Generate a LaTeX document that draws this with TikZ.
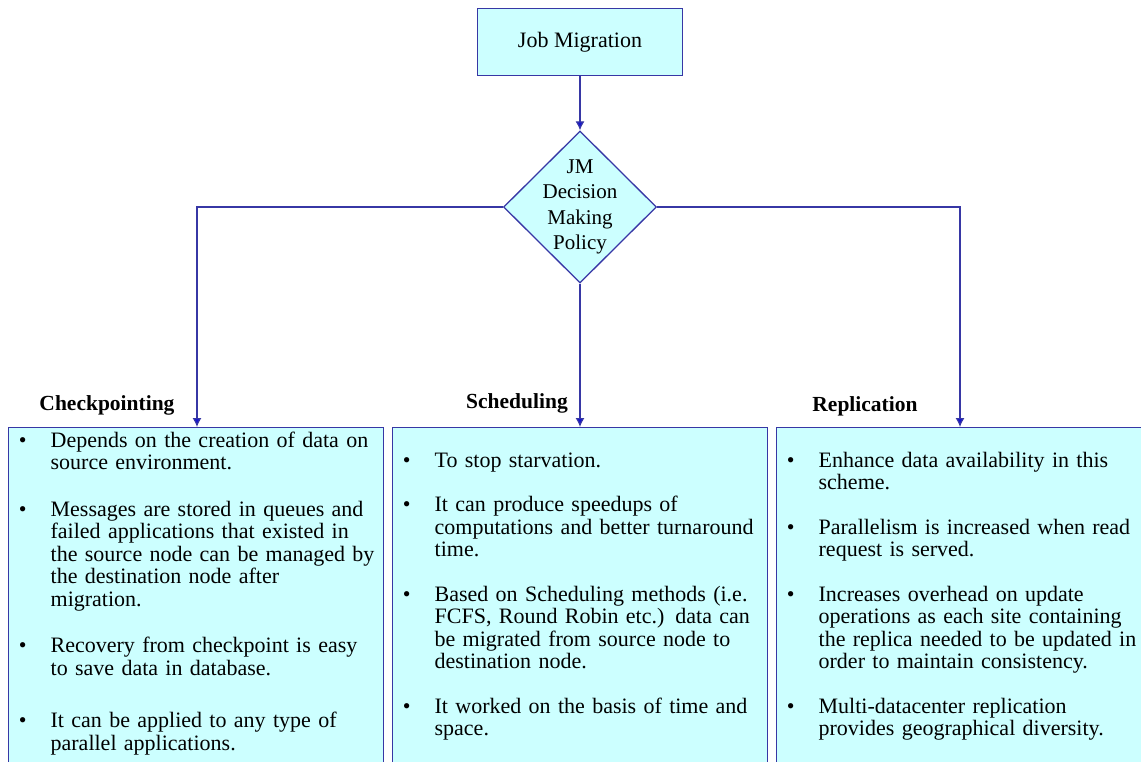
\documentclass[tikz,border=0pt]{standalone}
\usepackage{fontspec}
\setmainfont{Liberation Serif}
\usepackage{enumitem}
\usetikzlibrary{arrows.meta,shapes.geometric,positioning}
\definecolor{boxfill}{RGB}{204,255,255}
\definecolor{boxline}{RGB}{55,55,165}
\definecolor{tipblue}{RGB}{20,20,210}
\setlist[itemize]{label=\textbullet, leftmargin=38pt, labelwidth=14pt,
  labelsep=24pt, itemsep=22pt, parsep=0pt, topsep=0pt, partopsep=0pt}
\tikzset{%
  >={Latex[width=9pt,length=9pt,fill=tipblue]},
  % Specifications for style of nodes:
            base/.style = {rectangle, draw=boxline, fill=boxfill,
                           line width=1.3pt, font=\fontsize{22}{22.5}\selectfont},
        topbox/.style = {base, minimum width=205pt, minimum height=67pt},
      decision/.style = {base, diamond, aspect=1, inner sep=-12pt,
                         minimum width=153pt, minimum height=152pt,
                         align=center, font=\fontsize{21}{25.5}\selectfont},
       listbox/.style = {base, anchor=north west, inner xsep=4pt, inner ysep=0pt,
                         text width=367pt, align=left},
       heading/.style = {font=\fontsize{21.5}{22}\selectfont\bfseries, anchor=base},
          flow/.style = {draw=boxline, line width=1.2pt, ->},
}

\begin{document}
\begin{tikzpicture}[x=1pt, y=-1pt]
  \clip (0,0) rectangle (1141,761);
  % Specification of nodes (position, etc.)
  \node (job)     [topbox] at (580,42) {Job Migration};
  \node (policy)  [decision] at (580,207) {JM\\Decision\\Making\\Policy};

  \node (check)   [listbox] at (8,427) {\vspace*{-3pt}
    \begin{itemize}[itemsep=24pt]
      \item Depends on the creation of data on\\source environment.
      \item Messages are stored in queues and\\failed applications that existed in\\the source node can be managed by\\the destination node after\\migration.
      \item Recovery from checkpoint is easy\\to save data in database.
      \vspace{6pt}
      \item It can be applied to any type of\\parallel applications.
    \end{itemize}\par\vspace*{30pt}\mbox{}};
  \node (sched)   [listbox] at (392,427) {\vspace*{17pt}
    \begin{itemize}
      \item To stop starvation.
      \item It can produce speedups of\\computations and better turnaround\\time.
      \item Based on Scheduling methods (i.e.\\FCFS, Round Robin etc.) data can\\be migrated from source node to\\destination node.
      \item It worked on the basis of time and\\space.
    \end{itemize}\par\vspace*{30pt}\mbox{}};
  \node (repl)    [listbox, text width=372pt] at (776,427) {\vspace*{17pt}
    \begin{itemize}
      \item Enhance data availability in this\\scheme.
      \item Parallelism is increased when read\\request is served.
      \item Increases overhead on update\\operations as each site containing\\the replica needed to be updated in\\order to maintain consistency.
      \item Multi-datacenter replication\\provides geographical diversity.
    \end{itemize}\par\vspace*{30pt}\mbox{}};

  \node (checkhd) [heading] at (107,410) {Checkpointing};
  \node (schedhd) [heading] at (517,408) {Scheduling};
  \node (replhd)  [heading] at (865,411) {Replication};

  \draw[flow]     (job) -- (policy);
  \draw[flow]     (policy.west) -| (check.north -| 197,0);
  \draw[flow]     (policy) -- (policy |- sched.north);
  \draw[flow]     (policy.east) -| (repl.north -| 960,0);
\end{tikzpicture}
\end{document}
